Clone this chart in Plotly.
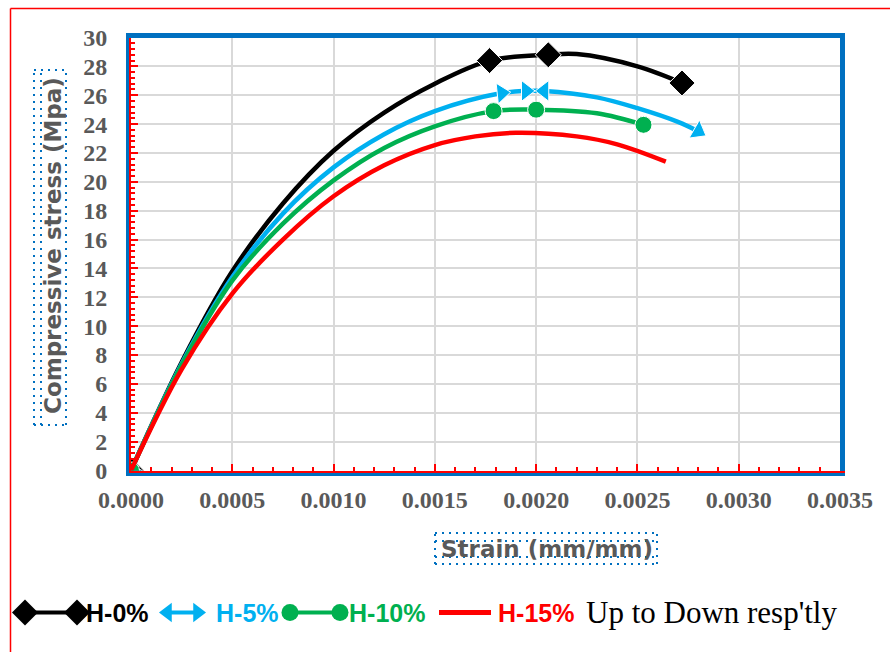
import plotly.graph_objects as go

# ---------------------------------------------------------------- data
strain_h0 = [0, 0.00025, 0.0005, 0.00075, 0.001, 0.00125, 0.0015,
             0.00177, 0.00206, 0.0022, 0.0025, 0.00272]
stress_h0 = [0, 7.5, 13.8, 18.5, 22.15, 24.8, 26.8,
             28.4, 28.8, 28.85, 28.0, 26.85]
marks_h0 = [0, 7, 8, 11]

strain_h5 = [0, 0.00025, 0.0005, 0.00075, 0.001, 0.00125, 0.0015,
             0.00183, 0.00195, 0.00204, 0.0023, 0.0025, 0.0027, 0.0028]
stress_h5 = [0, 7.4, 13.4, 17.8, 21.0, 23.3, 24.9,
             26.15, 26.3, 26.3, 25.85, 25.1, 24.15, 23.5]
marks_h5 = {0: ("triangle-left", -66), 7: ("triangle-right", -6),
            8: ("triangle-right", 0), 9: ("triangle-left", 0),
            13: ("triangle-right", 30)}

strain_h10 = [0, 0.00025, 0.0005, 0.00075, 0.001, 0.00125, 0.0015,
              0.00179, 0.002, 0.0023, 0.00253]
stress_h10 = [0, 7.3, 13.15, 17.1, 20.1, 22.35, 23.85,
              24.9, 25.0, 24.75, 23.95]
marks_h10 = [0, 7, 8, 10]

strain_h15 = [0, 0.00025, 0.0005, 0.00075, 0.001, 0.00125, 0.0015,
              0.0017, 0.0019, 0.0022, 0.0024, 0.00264]
stress_h15 = [0, 7.0, 12.25, 16.0, 19.0, 21.15, 22.55,
              23.15, 23.4, 23.15, 22.6, 21.4]

x_ticks = [0, 0.0005, 0.001, 0.0015, 0.002, 0.0025, 0.003, 0.0035]
y_ticks = list(range(0, 31, 2))

series_names = ["H-0%", "H-5%", "H-10%", "H-15%"]
note_text = "Up to Down resp'tly"

BLACK, BLUE, GREEN, RED = "#000000", "#00B0F0", "#00B050", "#FF0000"
FRAME_BLUE = "#0070C0"
GREY = "#595959"

# ---------------------------------------------------------------- geometry (pixels)
W, H = 890, 652
PL, PR, PT, PB = 131, 840, 37.5, 470.5


def fx(px):
    return px / W


def fy(py):
    return 1 - py / H


def sizes(n, picked, s):
    return [s if i in picked else 0 for i in range(n)]


fig = go.Figure()

# black: diamonds on selected points
fig.add_trace(go.Scatter(
    x=strain_h0, y=stress_h0, mode="lines+markers", name=series_names[0],
    line=dict(color=BLACK, width=4.5, shape="spline"),
    marker=dict(symbol="diamond", color=BLACK, opacity=1,
                size=sizes(len(strain_h0), marks_h0, 20)),
))

# blue: arrow heads along the line
fig.add_trace(go.Scatter(
    x=strain_h5, y=stress_h5, mode="lines+markers", name=series_names[1],
    line=dict(color=BLUE, width=4.5, shape="spline"),
    marker=dict(
        color=BLUE, opacity=1,
        symbol=[marks_h5[i][0] if i in marks_h5 else "circle" for i in range(len(strain_h5))],
        angle=[marks_h5[i][1] if i in marks_h5 else 0 for i in range(len(strain_h5))],
        size=sizes(len(strain_h5), marks_h5, 18),
    ),
))

# green: circles on selected points
fig.add_trace(go.Scatter(
    x=strain_h10, y=stress_h10, mode="lines+markers", name=series_names[2],
    line=dict(color=GREEN, width=4.5, shape="spline"),
    marker=dict(symbol="circle", color=GREEN, opacity=1,
                size=sizes(len(strain_h10), marks_h10, 17)),
))

# red: plain line
fig.add_trace(go.Scatter(
    x=strain_h15, y=stress_h15, mode="lines", name=series_names[3],
    line=dict(color=RED, width=4.5, shape="spline"),
))

# carrier for the red axis lines drawn over the blue frame
fig.add_trace(go.Scatter(x=[None], y=[None], xaxis="x2", yaxis="y2",
                         hoverinfo="skip", showlegend=False))

# ---------------------------------------------------------------- legend keys (pixel axes)
LY = 612.5
fig.add_trace(go.Scatter(
    x=[25, 77], y=[LY, LY], xaxis="x3", yaxis="y3", mode="lines+markers",
    line=dict(color=BLACK, width=4), marker=dict(symbol="diamond", size=20, color=BLACK)))
fig.add_trace(go.Scatter(
    x=[167.5, 197.5], y=[LY, LY], xaxis="x3", yaxis="y3", mode="lines+markers",
    line=dict(color=BLUE, width=4),
    marker=dict(symbol=["triangle-left", "triangle-right"], size=17, color=BLUE)))
fig.add_trace(go.Scatter(
    x=[290, 340], y=[LY, LY], xaxis="x3", yaxis="y3", mode="lines+markers",
    line=dict(color=GREEN, width=4), marker=dict(symbol="circle", size=17, color=GREEN)))
fig.add_trace(go.Scatter(
    x=[439, 491], y=[LY, LY], xaxis="x3", yaxis="y3", mode="lines",
    line=dict(color=RED, width=5)))

tick_font = dict(family="Liberation Serif", size=24, color=GREY, weight="bold")

fig.update_layout(
    width=W, height=H,
    margin=dict(l=0, r=0, t=0, b=0, autoexpand=False),
    paper_bgcolor="white", plot_bgcolor="rgba(0,0,0,0)",
    showlegend=False,
    xaxis=dict(
        domain=[fx(PL), fx(PR)], range=[0, 0.0035], anchor="y", automargin=False,
        tickvals=x_ticks, ticktext=[f"{v:.4f}" for v in x_ticks],
        tickfont=tick_font, ticks="", ticklabelstandoff=4,
        showgrid=True, gridcolor="#D9D9D9", gridwidth=2,
        showline=True, linecolor=FRAME_BLUE, linewidth=5, mirror=True,
        zeroline=False, layer="below traces",
    ),
    yaxis=dict(
        domain=[fy(PB), fy(PT)], range=[0, 30], anchor="x", automargin=False,
        tickvals=y_ticks, tickfont=tick_font, ticks="", ticklabelstandoff=14,
        showgrid=True, gridcolor="#D9D9D9", gridwidth=2,
        showline=True, linecolor=FRAME_BLUE, linewidth=5, mirror=True,
        zeroline=False, layer="below traces",
    ),
    xaxis2=dict(
        overlaying="x", anchor="y2", range=[0, 0.0035], side="bottom", automargin=False,
        showgrid=False, zeroline=False, showticklabels=False,
        showline=True, linecolor=RED, linewidth=2,
        ticks="inside", tick0=0, dtick=0.0005, ticklen=7, tickwidth=2, tickcolor=RED,
        minor=dict(ticks="inside", dtick=0.0001, ticklen=4, tickwidth=2,
                   tickcolor=RED, showgrid=False),
    ),
    yaxis2=dict(
        overlaying="y", anchor="x2", range=[0, 30], side="left", automargin=False,
        showgrid=False, zeroline=False, showticklabels=False,
        showline=True, linecolor=RED, linewidth=2,
        ticks="inside", tick0=0, dtick=2, ticklen=7, tickwidth=2, tickcolor=RED,
        minor=dict(ticks="inside", dtick=0.4, ticklen=4, tickwidth=2,
                   tickcolor=RED, showgrid=False),
    ),
    xaxis3=dict(domain=[0, 1], range=[0, W], visible=False, anchor="y3",
                fixedrange=True, automargin=False),
    yaxis3=dict(domain=[0, 1], range=[H, 0], visible=False, anchor="x3",
                fixedrange=True, automargin=False),
)

# ---------------------------------------------------------------- decorations
shapes = []
# outer red frame (left and top edges)
shapes.append(dict(type="line", xref="paper", yref="paper",
                   x0=fx(10.5), x1=fx(10.5), y0=fy(H), y1=fy(8.5),
                   line=dict(color=RED, width=1.5)))
shapes.append(dict(type="line", xref="paper", yref="paper",
                   x0=fx(10.5), x1=fx(W), y0=fy(8.5), y1=fy(8.5),
                   line=dict(color=RED, width=1.5)))

dots = dict(color=FRAME_BLUE, width=2, dash="2px,5px")
# dotted box behind the y title
for xv in (34, 41, 66):
    shapes.append(dict(type="line", xref="paper", yref="paper",
                       x0=fx(xv), x1=fx(xv), y0=fy(425), y1=fy(70), line=dots))
for yv in (70, 425):
    shapes.append(dict(type="line", xref="paper", yref="paper",
                       x0=fx(34), x1=fx(66), y0=fy(yv), y1=fy(yv), line=dots))
# dotted box behind the x title
for yv in (533, 541, 557, 564):
    shapes.append(dict(type="line", xref="paper", yref="paper",
                       x0=fx(435), x1=fx(657), y0=fy(yv), y1=fy(yv), line=dots))
for xv in (435, 657):
    shapes.append(dict(type="line", xref="paper", yref="paper",
                       x0=fx(xv), x1=fx(xv), y0=fy(564), y1=fy(533), line=dots))
fig.update_layout(shapes=shapes)

title_font = dict(family="DejaVu Sans", size=23, color=GREY, weight="bold")
ann = [
    dict(text="Compressive stress (Mpa)", x=fx(53), y=fy(246), textangle=-90,
         font=title_font),
    dict(text="Strain (mm/mm)", x=fx(547), y=fy(549), font=title_font),
]
legend_font = dict(family="Liberation Sans", size=25, weight="bold")
for txt, xpos, col in [(series_names[0], 84, BLACK), (series_names[1], 214, BLUE),
                       (series_names[2], 347, GREEN), (series_names[3], 496, RED)]:
    ann.append(dict(text=txt, x=fx(xpos), y=fy(LY), xanchor="left",
                    font=dict(legend_font, color=col)))
ann.append(dict(text=note_text, x=fx(584), y=fy(LY), xanchor="left",
                font=dict(family="Liberation Serif", size=31, color=BLACK)))
for a in ann:
    a.setdefault("xanchor", "center")
    a.update(xref="paper", yref="paper", yanchor="middle", showarrow=False)
fig.update_layout(annotations=ann)

fig.write_html("out.html")
